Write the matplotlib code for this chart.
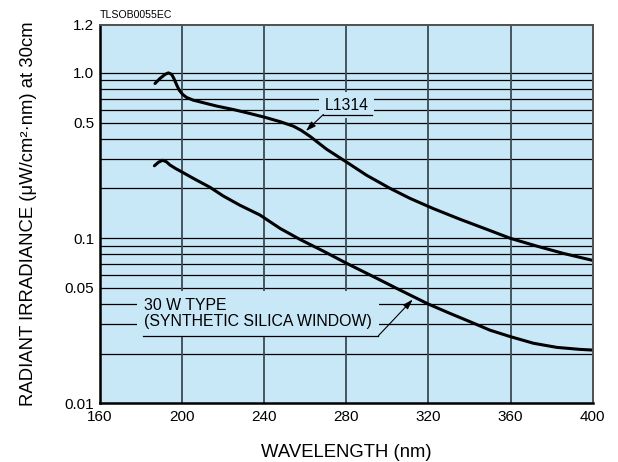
import matplotlib
matplotlib.use("Agg")
import matplotlib.pyplot as plt
from matplotlib.ticker import FixedLocator, FixedFormatter, NullLocator

plt.rcParams['font.family'] = ['Liberation Sans', 'DejaVu Sans']

# L1314 curve (upper)
wl_l1314 = [186.8, 189.2, 191.7, 193.3, 194.9, 196.0, 197.4, 198.6, 200.3, 202.2,
            205.4, 208.7, 216.8, 225.0, 232.0, 240.0, 247.7, 254.2, 258.0, 262.3,
            270.4, 280.2, 289.9, 301.3, 311.0, 322.3, 335.4, 348.4, 360.0, 372.7,
            385.7, 400.0]
val_l1314 = [0.863, 0.925, 0.980, 1.000, 0.980, 0.925, 0.843, 0.786, 0.740, 0.710,
             0.684, 0.668, 0.630, 0.600, 0.572, 0.540, 0.507, 0.476, 0.449, 0.413,
             0.345, 0.288, 0.240, 0.200, 0.174, 0.151, 0.130, 0.113, 0.0996, 0.0895,
             0.0808, 0.0733]

# 30 W type, synthetic silica window (lower)
wl_30w = [186.5, 188.5, 190.5, 192.3, 194.1, 197.0, 199.0, 206.0, 213.6, 220.0,
          228.2, 237.9, 247.7, 257.4, 268.8, 280.2, 294.8, 306.1, 319.9, 330.5,
          340.2, 350.0, 360.0, 371.1, 382.5, 393.8, 400.0]
val_30w = [0.274, 0.288, 0.296, 0.290, 0.277, 0.263, 0.255, 0.228, 0.203, 0.180,
           0.158, 0.138, 0.1145, 0.0982, 0.0834, 0.0703, 0.0571, 0.0485, 0.0399, 0.0350,
           0.0312, 0.0277, 0.0253, 0.0231, 0.0218, 0.0212, 0.0210]

x_ticks = [160, 200, 240, 280, 320, 360, 400]
y_top = 1.95
y_ticks = [0.01, 0.05, 0.1, 0.5, 1.0, y_top]
y_tick_labels = ["0.01", "0.05", "0.1", "0.5", "1.0", "1.2"]
y_grid = [0.01 * k for k in range(2, 10)] + [0.1 * k for k in range(1, 10)] + [1.0]

bg = '#c8e8f8'

fig = plt.figure(figsize=(6.18, 4.62), dpi=100)
ax = fig.add_axes([100 / 618, 1 - 403.3 / 462, 492.7 / 618, 378.3 / 462])
ax.set_facecolor(bg)
ax.set_yscale('log')
ax.set_xlim(160, 400)
ax.set_ylim(0.01, y_top)

# grid
for v in y_grid:
    ax.axhline(v, color='black', lw=0.9, zorder=1)
for x in x_ticks[1:-1]:
    ax.axvline(x, color='#3c4a55', lw=1.3, zorder=1)

# curves
ax.plot(wl_l1314, val_l1314, color='black', lw=2.2, zorder=4, solid_capstyle='round')
ax.plot(wl_30w, val_30w, color='black', lw=2.2, zorder=4, solid_capstyle='round')

# labels
ax.text(280.1, 0.638, "L1314", fontsize=11.3, ha='center', va='center', zorder=2,
        bbox=dict(boxstyle='square,pad=0.35', fc=bg, ec='none'))
ax.plot([268.8, 292.4], [0.560, 0.560], color='black', lw=0.9, zorder=3)
ax.annotate("", xy=(260.3, 0.445), xytext=(268.8, 0.560), zorder=3,
            arrowprops=dict(arrowstyle='-|>,head_length=0.5,head_width=0.16',
                            mutation_scale=12, color='black', lw=0.8,
                            shrinkA=0, shrinkB=0))

ax.text(181.4, 0.0348, "30 W TYPE\n(SYNTHETIC SILICA WINDOW)", fontsize=11.4,
        ha='left', va='center', linespacing=1.1, zorder=2,
        bbox=dict(boxstyle='square,pad=0.45', fc=bg, ec='none'))
ax.plot([181.0, 295.6], [0.02564, 0.02564], color='black', lw=0.9, zorder=3)
ax.annotate("", xy=(312.3, 0.0425), xytext=(295.6, 0.02564), zorder=3,
            arrowprops=dict(arrowstyle='-|>,head_length=0.5,head_width=0.16',
                            mutation_scale=12, color='black', lw=0.8,
                            shrinkA=0, shrinkB=0))

# ticks
ax.xaxis.set_major_locator(FixedLocator(x_ticks))
ax.yaxis.set_major_locator(FixedLocator(y_ticks))
ax.yaxis.set_major_formatter(FixedFormatter(y_tick_labels))
ax.yaxis.set_minor_locator(NullLocator())
ax.tick_params(axis='both', length=0, labelsize=11)
ax.tick_params(axis='x', pad=5)
ax.tick_params(axis='y', pad=4)

ax.set_xlabel("WAVELENGTH (nm)", fontsize=13.3, labelpad=14)
ax.set_ylabel("RADIANT IRRADIANCE (\u03bcW/cm\u00b2\u00b7nm) at 30cm", fontsize=13.3, labelpad=20)

for side in ['left', 'bottom']:
    ax.spines[side].set_color('black')
    ax.spines[side].set_linewidth(1.8)
for side in ['top', 'right']:
    ax.spines[side].set_color('#505050')
    ax.spines[side].set_linewidth(1.4)
for s in ax.spines.values():
    s.set_zorder(5)

fig.text(100 / 618, 1 - 15 / 462, "TLSOB0055EC", fontsize=7.6, ha='left', va='center')

fig.savefig("out.png", dpi=100)
